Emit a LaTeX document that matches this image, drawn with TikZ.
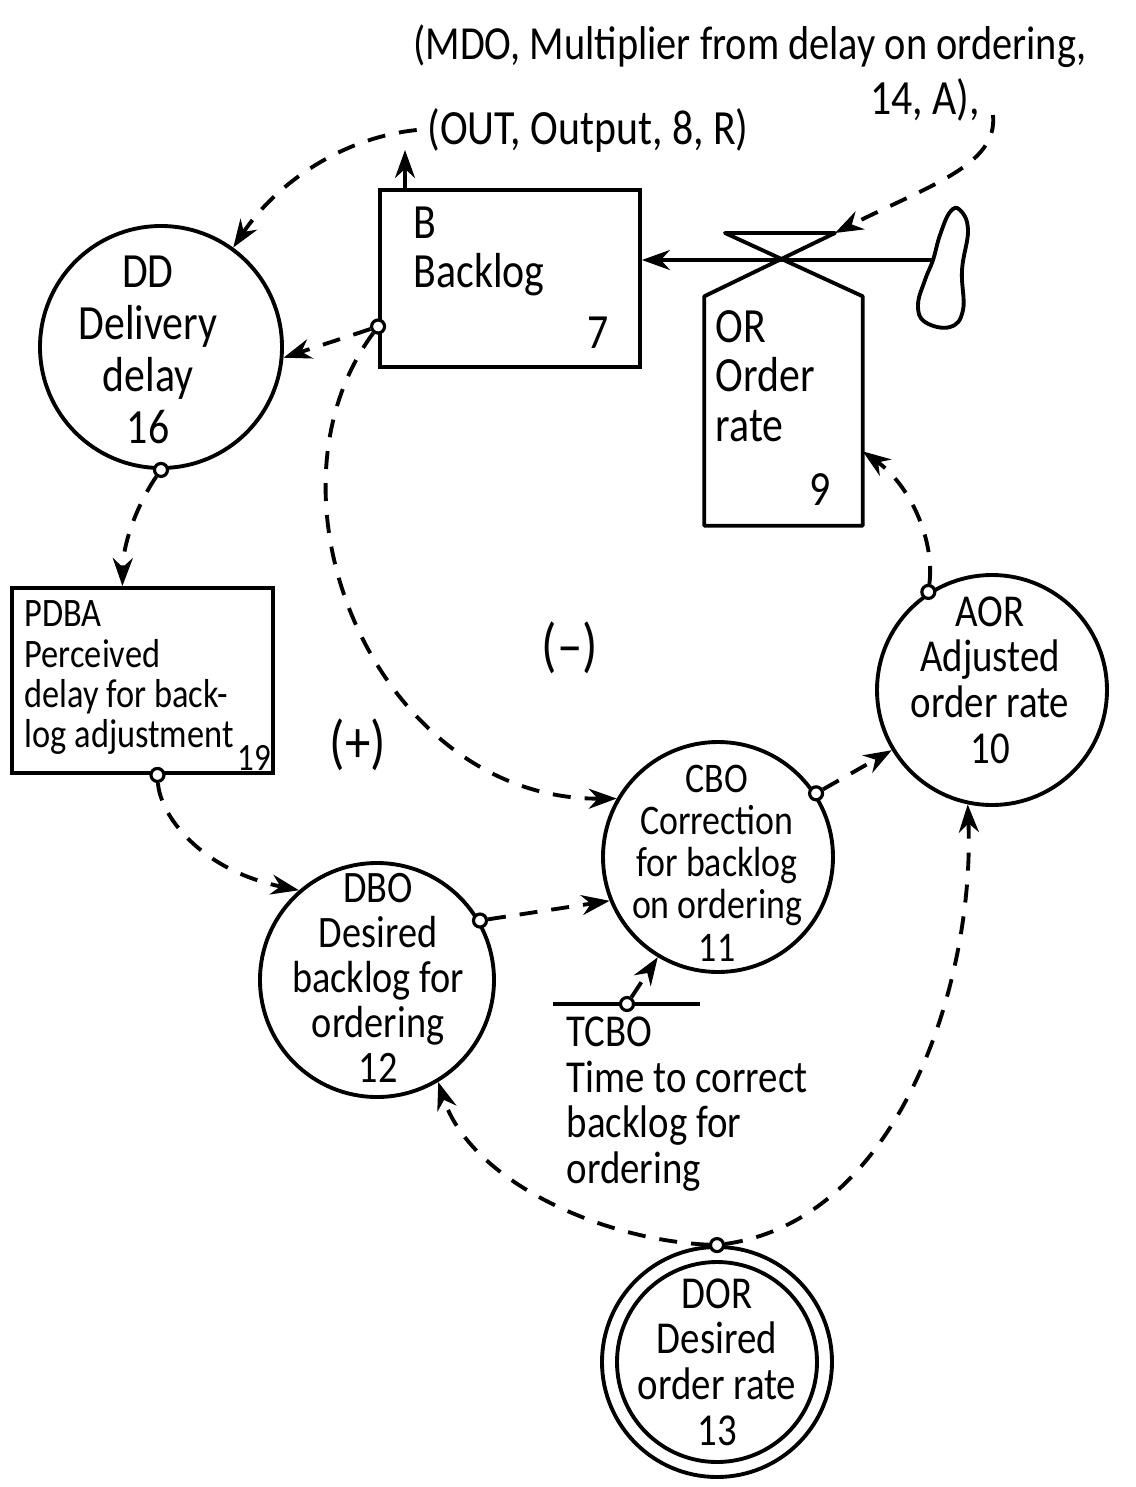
\documentclass[tikz,border=0pt]{standalone}
\usepackage{fontspec}
\setmainfont{Carlito}[FakeStretch=0.85]
\usetikzlibrary{arrows.meta,positioning}
\tikzset{
  var/.style  = {circle, draw, line width=1.1pt, inner sep=0pt},
  lvl/.style  = {draw, line width=1.1pt, inner sep=0pt},
  tap/.style  = {circle, draw, fill=white, line width=0.9pt, inner sep=0pt, minimum size=1.3mm},
  txt/.style  = {inner sep=0pt, align=center, font=\fontsize{13}{13}\selectfont},
  wire/.style = {line width=1.1pt},
  info/.style = {line width=1.1pt, dash pattern=on 1.8mm off 1.4mm,
                 -{Stealth[length=2.8mm,width=2mm]}},
  flow/.style = {line width=1.1pt, -{Stealth[length=2.8mm,width=2mm]}},
}
\begin{document}
\begin{tikzpicture}[x=1mm,y=-1mm]
  \useasboundingbox (0,0) rectangle (113.6,148.7);
  % levels, rate and auxiliaries
  \node[lvl, minimum width=26mm, minimum height=17.7mm] (bl) at (51,27.85) {};
  \node[inner sep=0pt, minimum width=15.7mm, minimum height=22.8mm] (orate) at (78.35,41.1) {};
  \node[lvl, minimum width=26.1mm, minimum height=18.5mm] (pdba) at (14.25,68.05) {};
  \node[var, minimum size=24.2mm] (dd) at (16.1,34.7) {};
  \node[var, minimum size=23.4mm] (dbo) at (37.7,98) {};
  \node[var, minimum size=23mm] (cbo) at (71.8,85.7) {};
  \node[var, minimum size=23mm] (aor) at (99.2,69) {};
  \node[var, minimum size=23mm] (dor) at (71.7,136.2) {};
  \node[var, minimum size=20mm] (dori) at (dor) {};
  % valve and source
  \coordinate (vtl) at (72.5,23.3);
  \coordinate (vtr) at (83.5,23.3);
  \coordinate (src) at (93.3,26);
  \draw[wire, line join=round] (vtl) -- (vtr) -- (orate.north west) -- (orate.south west)
     -- (orate.south east) -- (orate.north east) -- cycle;
  \draw[wire] plot[smooth cycle, tension=0.7] coordinates {(96,21) (96.8,23) (96.2,27)
     (96.3,31) (95,32.7) (92.5,32.2) (91.8,30.5) (92.5,28) (93.3,26) (94,23.5) (95,21.2)};
  \draw[flow] (src) -- (bl.east |- src);
  % texts
  \node[txt, font=\fontsize{13.5}{14}\selectfont] (mdo) at (75,4.6)
     {(MDO, Multiplier from delay on ordering,};
  \node[txt, font=\fontsize{14}{14}\selectfont] (mdob) at (92.5,10) {14, A),};
  \node[txt, inner xsep=1mm, font=\fontsize{14}{14}\selectfont] (out) at (58.8,13) {(OUT, Output, 8, R)};
  \node[txt, anchor=north west, align=left, font=\fontsize{14}{14}\selectfont] (bltxt) at (41.3,20.6) {B\\Backlog};
  \node[txt, font=\fontsize{14}{14}\selectfont] (blnum) at (59.8,33.3) {7};
  \node[txt, anchor=north west, align=left, font=\fontsize{14}{14}\selectfont] (ortxt) at (71.5,31) {OR\\Order\\rate};
  \node[txt, font=\fontsize{14}{14}\selectfont] (ornum) at (82,49) {9};
  \node[txt, font=\fontsize{14}{14.8}\selectfont] (ddtxt) at (14.8,35) {DD\\Delivery\\delay\\16};
  \node[txt, anchor=north west, align=left, font=\fontsize{11.5}{11.5}\selectfont] (pdbatxt) at (2.4,60)
     {PDBA\\Perceived\\delay for back-\\log adjustment};
  \node[txt, font=\fontsize{11}{11}\selectfont] (pdbanum) at (25.4,75.8) {19};
  \node[txt, font=\fontsize{12.8}{12.8}\selectfont] (dbotxt) at (37.8,97.8) {DBO\\Desired\\backlog for\\ordering\\12};
  \node[txt, font=\fontsize{12}{12}\selectfont] (cbotxt) at (71.7,86.3) {CBO\\Correction\\for backlog\\on ordering\\11};
  \node[txt] (aortxt) at (99,68) {AOR\\Adjusted\\order rate\\10};
  \node[txt] (dortxt) at (dor) {DOR\\Desired\\order rate\\13};
  \node[txt, anchor=north west, align=left] (tcbotxt) at (56.6,101.6)
     {TCBO\\Time to correct\\backlog for\\ordering};
  \draw[wire] (55.3,100.4) -- (70,100.4);
  \node[txt, font=\fontsize{17}{17}\selectfont] (neg) at (57,64.8) {(–)};
  \node[txt, font=\fontsize{17}{17}\selectfont] (pos) at (35.8,74.5) {(+)};
  % pick-off points
  \node[tap] (bltap) at (bl.200.5) {};
  \node[tap] (ddtap) at (dd.-90) {};
  \node[tap] (pdbatap) at (pdba.-81) {};
  \node[tap] (dbotap) at (dbo.30) {};
  \node[tap] (cbotap) at (cbo.33) {};
  \node[tap] (aortap) at (aor.123) {};
  \node[tap] (dortap) at (dor.north) {};
  \node[tap] (tcbotap) at (62.7,100.4) {};
  % information links
  \coordinate (outin) at (40.5,15);
  \coordinate (mdoend) at (99.3,11.5);
  \draw[flow] (bl.north -| outin) -- (outin);
  \draw[info] (out.west) .. controls (34,13.8) and (27.5,18.5) .. (dd.54);
  \draw[info] (mdoend) .. controls (99.8,16.5) and (93,18.5) .. (vtr);
  \draw[info] (bltap) -- (dd.-5);
  \draw[info] (bltap) .. controls (25,50) and (38,80) .. (cbo.150);
  \draw[info] (ddtap) .. controls (14,50) and (12.3,54) .. (pdba.102.5);
  \draw[info] (pdbatap) .. controls (16,81.5) and (20,87) .. (dbo.131.6);
  \draw[info] (dbotap) -- (cbo.202.5);
  \draw[info] (cbotap) -- (aor.211);
  \draw[info] (aortap) .. controls (93.5,54) and (91,48.5) .. (orate.-27.6);
  \draw[info] (tcbotap) -- (cbo.239.4);
  \draw[info] (dortap) .. controls (60,124) and (47,118) .. (dbo.-59.8);
  \draw[info] (dortap) .. controls (90,122) and (97.5,98) .. (aor.258);
\end{tikzpicture}
\end{document}
